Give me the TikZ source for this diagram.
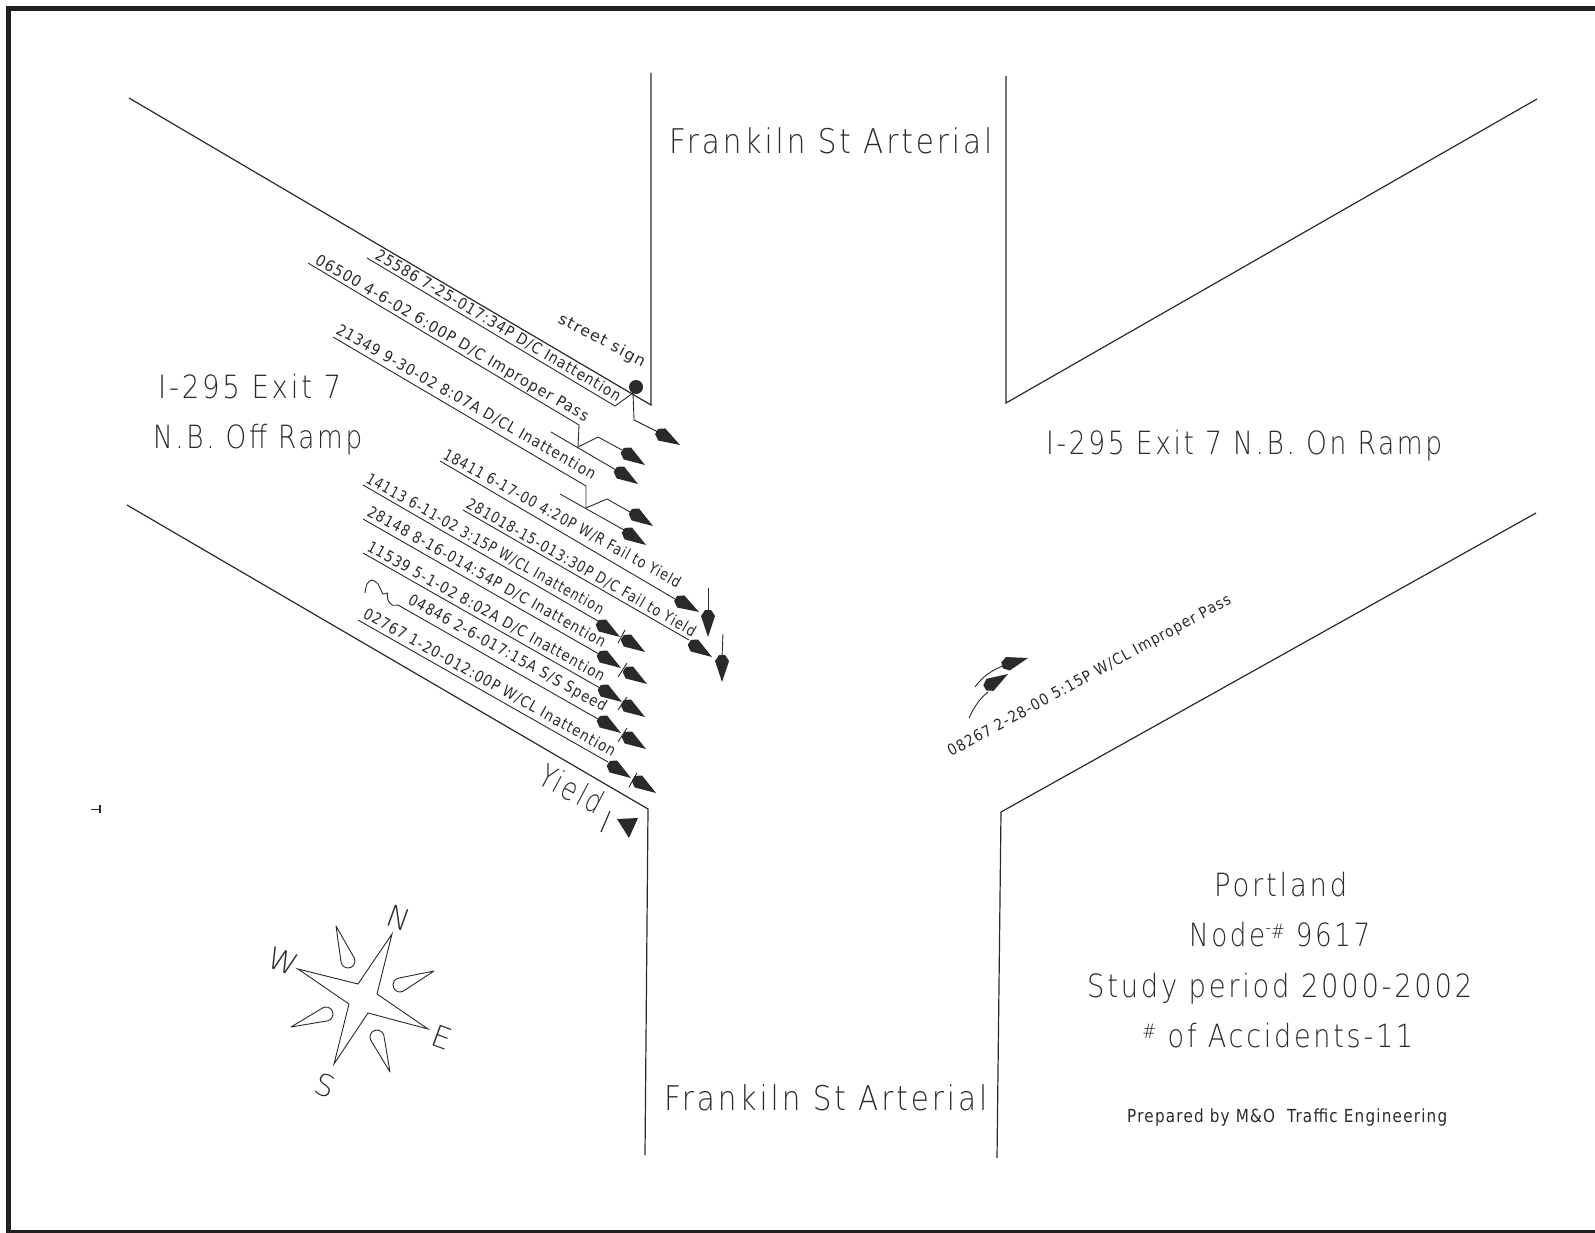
\documentclass[tikz,border=0pt]{standalone}
\usepackage{fontspec}
\usepackage{graphicx}
\newfontfamily\cad[LetterSpace=10]{DejaVu Sans ExtraLight}
\newfontfamily\cadb[LetterSpace=8]{DejaVu Sans}
\definecolor{ink}{HTML}{2A2A2A}
\definecolor{framec}{HTML}{231F20}
\tikzset{
  road/.style={draw=ink,line width=1.2pt},
  lead/.style={draw=ink,line width=0.9pt},
  cadtext/.style={inner sep=0pt,text=ink},
}
% name, x1,y1 (baseline start), x2,y2 (baseline end), font size, text
\newsavebox\lblbox
\newcommand\lbl[7]{%
  \pgfmathsetmacro\lblang{atan2(-(#5-#3),#4-#2)}%
  \pgfmathsetmacro\lbllen{veclen(#4-#2,#5-#3)}%
  \node[cadtext,anchor=base west,rotate=\lblang] (#1) at (#2,#3) {%
    \fontsize{#6}{#6}\selectfont\cad
    \sbox\lblbox{#7}%
    \pgfmathsetmacro\lblxs{\lbllen/\the\wd\lblbox}%
    \scalebox{\lblxs}[1]{\usebox\lblbox}};%
}
% small labels, in the heavier cut
\newcommand\sml[6]{\lbl{#1}{#2}{#3}{#4}{#5}{15.5}{\cadb #6}}
% tip x, tip y, rotation
\newcommand\kite[3]{%
  \fill[ink,shift={(#1,#2)},rotate=#3] (0,0) -- (-21,-7) -- (-27,-3) -- (-27,3) -- (-21,7) -- cycle;%
}
\newcommand\petal[4]{%
  \pgfmathsetmacro\petang{atan2(-(#2-#4),#1-#3)}%
  \pgfmathsetmacro\petlen{veclen(#1-#3,#2-#4)}%
  \draw[lead,line join=round,shift={(#3,#4)},rotate=\petang] (\petlen,0) -- (0.9,6.9) arc[start angle=82.5,end angle=277.5,radius=7] -- cycle;%
}
\begin{document}
\begin{tikzpicture}[x=1pt,y=-1pt]
\useasboundingbox (0,0) rectangle (1595,1233);
% frame
\fill[framec] (5.5,6) rectangle (1595,11);
\fill[framec] (5.5,6) rectangle (11,1233);
\fill[framec] (5.5,1230) rectangle (1595,1233);
% roads
\draw[road] (129,98) -- (651,405) -- (651,73);
\draw[road] (1006,76) -- (1006,403) -- (1537,99);
\draw[road] (127,505) -- (648,809) -- (645,1155);
\draw[road] (1536,513) -- (1001,812) -- (997,1158);
% road labels
\lbl{t1}{669}{154}{992}{154}{34}{Frankiln St Arterial}
\lbl{t2}{664}{1110}{987}{1110}{34}{Frankiln St Arterial}
\lbl{t3}{158}{398}{341}{398}{32}{I-295 Exit 7}
\lbl{t4}{153}{448}{362}{448}{32}{N.B. Off Ramp}
\lbl{t5}{1046}{454}{1442}{454}{32}{I-295 Exit 7 N.B. On Ramp}
% title block
\lbl{t6}{1214}{896}{1347}{896}{32}{Portland}
\lbl{t7}{1189}{946}{1370}{946}{32}{Node\raisebox{12pt}{\fontsize{20}{20}\selectfont\cad-}\raisebox{8pt}{\fontsize{20}{20}\selectfont\cad\#} 9617}
\lbl{t8}{1087}{997}{1472}{997}{32}{Study period 2000-2002}
\lbl{t9}{1142}{1047}{1413}{1047}{32}{\raisebox{9pt}{\fontsize{20}{20}\selectfont\cad\#} of Accidents-11}
\lbl{t10}{1127}{1122}{1447}{1122}{18}{\cadb Prepared by M\&O\ \ Traffic Engineering}
% accident labels
\sml{a1}{374}{258}{617}{402}{25586 7-25-017:34P D/C Inattention}
\sml{a2}{314}{263}{585}{422}{06500 4-6-02 6:00P D/C Improper Pass}
\sml{a3}{335}{333}{592}{480}{21349 9-30-02 8:07A D/CL Inattention}
\sml{a4}{442}{458}{677}{588}{18411 6-17-00 4:20P W/R Fail to Yield}
\sml{a5}{465}{507}{692}{637}{281018-15-013:30P D/C Fail to Yield}
\sml{a6}{365}{482}{600}{615}{14113 6-11-02 3:15P W/CL Inattention}
\sml{a7}{366}{515}{602}{648}{28148 8-16-014:54P D/C Inattention}
\sml{a8}{366}{550}{601}{682}{11539 5-1-02 8:02A D/C Inattention}
\sml{a9}{407}{603}{603}{712}{04846 2-6-017:15A S/S Speed}
\sml{a10}{362}{617}{612}{757}{02767 1-20-012:00P W/CL Inattention}
\sml{a11}{951}{757}{1232}{603}{08267 2-28-00 5:15P W/CL Improper Pass}
\sml{s1}{557}{322}{642}{367}{street sign}
\lbl{y1}{536}{783}{596}{815}{32}{Yield}
% street sign
\fill[ink] (636,387) circle (7);
\draw[lead] (367,258) -- (615,406) -- (633,393);
\draw[lead] (633,393) -- (634,420) -- (658,432);
\kite{680}{445}{-30}
% 06500
\draw[lead] (308,263) -- (579,425) -- (578,447);
\draw[lead] (551,432) -- (616,470);
\kite{638}{484}{-33}
\draw[lead] (578,447) -- (598,437) -- (622,450);
\kite{645}{465}{-33}
% 21349
\draw[lead] (333,337) -- (586,486) -- (586,508);
\draw[lead] (560,494) -- (624,530);
\kite{646}{545}{-33}
\draw[lead] (586,508) -- (607,499) -- (630,512);
\kite{653}{526}{-33}
% 18411
\draw[lead] (440,461) -- (675,599);
\kite{699}{612}{-30}
\draw[lead] (708,588) -- (708,612);
\kite{708}{637}{-90}
% 281018
\draw[lead] (463,510) -- (689,640);
\kite{712}{657}{-33}
\draw[lead] (723,634) -- (722,658);
\kite{722}{682}{-90}
% 14113
\draw[lead] (363,485) -- (598,621);
\kite{620}{637}{-33}
\draw[lead] (625,630) -- (618,643);
\kite{645}{652}{-33}
% 28148
\draw[lead] (363,519) -- (599,654);
\kite{621}{668}{-33}
\draw[lead] (627,663) -- (618,677);
\kite{647}{684}{-33}
% 11539
\draw[lead] (363,553) -- (600,688);
\kite{622}{702}{-33}
\draw[lead] (627,697) -- (618,710);
\kite{645}{717}{-33}
% 04846
\draw[lead] plot[smooth] coordinates {(365,593) (367,584) (372,580) (378,584) (383,594) (387,593) (388,600) (392,605) (398,605)} -- (598,719);
\kite{621}{733}{-33}
\draw[lead] (627,728) -- (618,742);
\kite{646}{749}{-33}
% 02767
\draw[lead] (358,620) -- (608,762);
\kite{631}{778}{-33}
\draw[lead] (637,773) -- (629,787);
\kite{656}{793}{-33}
% yield sign
\draw[road] (610,811) -- (601,832);
\fill[ink] (617,819) -- (638,818) -- (629,838) -- cycle;
% 08267
\draw[lead] (975,687) .. controls (982,677) and (992,670) .. (1003,666);
\kite{1028}{658}{16}
\draw[lead] (969,718) .. controls (974,707) and (980,698) .. (988,692);
\kite{1008}{674}{31}
% compass
\draw[lead,line join=miter] (392,934) -- (377,994) -- (428,1029) -- (368,1013) -- (334,1064) -- (349,1004) -- (298,969) -- (358,984) -- cycle;
\petal{336}{926}{348}{961}
\petal{434}{971}{400}{985}
\petal{390}{1072}{377}{1037}
\petal{291}{1027}{326}{1014}
\node[cadtext,rotate=-20,font=\fontsize{30}{30}\selectfont\cad] (cn) at (399,918) {N};
\node[cadtext,rotate=-20,font=\fontsize{30}{30}\selectfont\cad] (ce) at (442,1037) {E};
\node[cadtext,rotate=-20,font=\fontsize{30}{30}\selectfont\cad] (cs) at (325,1085) {S};
\node[cadtext,rotate=-20,font=\fontsize{30}{30}\selectfont\cad] (cw) at (283,961) {W};
% stray mark
\draw[lead] (91,809) -- (100,809);
\draw[ink,line width=1.5pt] (100,805) -- (100,813);
\end{tikzpicture}
\end{document}
